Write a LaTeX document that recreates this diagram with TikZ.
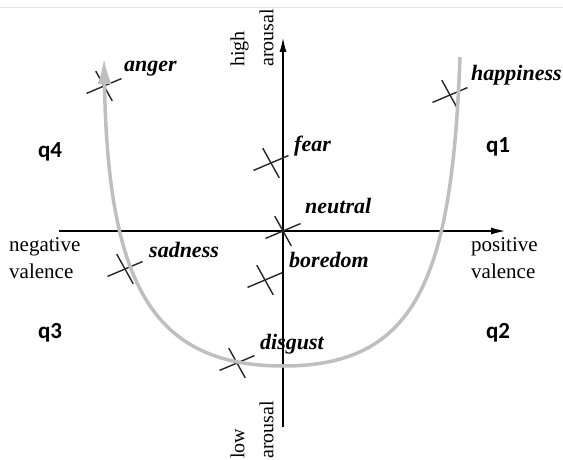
\documentclass[tikz,border=0pt]{standalone}
\usepackage{fontspec}
\setmainfont{Liberation Serif}
\newfontfamily\qfont{Carlito}
\usetikzlibrary{arrows.meta}

\begin{document}
\begin{tikzpicture}[x=1pt,y=1pt,
  emo/.style={anchor=base west,inner sep=0pt,font=\fontsize{22}{26}\selectfont\bfseries\itshape},
  quad/.style={inner sep=0pt,font=\fontsize{23}{26}\selectfont\qfont\bfseries},
  axlabel/.style={inner sep=0pt,align=left,font=\fontsize{21}{27}\selectfont},
  vlabel/.style={inner sep=0pt,align=left,rotate=90,font=\fontsize{20}{29}\selectfont},
  tick/.style={line width=1.4pt,black!85}]
  \useasboundingbox (0,0) rectangle (563,-460);
  \draw[black!10,line width=0.8pt] (0,-7) -- (563,-7);
  % axes
  \coordinate (xl) at (59,-231);
  \coordinate (xr) at (505,-231);
  \coordinate (yb) at (283,-427);
  \coordinate (yt) at (283,-38);
  \draw[line width=1.1pt,-{Latex[length=14pt,width=7pt]}] (xl) -- (xr);
  \draw[line width=1.1pt,-{Latex[length=14pt,width=7pt]}] (yb) -- (yt);
  % crosses
  \foreach \n/\x/\y in {anger/104/86,happy/450/95,fear/271/163,neutral/283/231,sad/125/269,bored/265/280,disgust/237/363}{
    \coordinate (\n) at (\x,-\y);
    \draw[tick] (\n) ++(23:19) -- ++(203:38);
    \draw[tick] (\n) ++(-61:17) -- ++(119:34);
  }
  % the U-shaped curve
  \coordinate (ul) at (104,-58);
  \coordinate (ub) at (283,-366);
  \coordinate (ur) at (460,-57);
  \draw[line width=3.5pt,black!25,{Latex[length=26pt,width=14pt]}-] (ul) .. controls (108,-280) and (150,-366) .. (ub) .. controls (416,-366) and (452,-280) .. (ur);
  % emotion labels
  \node[emo] (angerlbl) at (124,-72) {anger};
  \node[emo] (happylbl) at (471,-81) {happiness};
  \node[emo] (fearlbl) at (294,-151) {fear};
  \node[emo] (neutrallbl) at (305,-213) {neutral};
  \node[emo] (sadlbl) at (149,-257) {sadness};
  \node[emo] (boredlbl) at (289,-267) {boredom};
  \node[emo] (disgustlbl) at (260,-349) {disgust};
  % axis labels
  \node[axlabel,anchor=west] (neg) at (9,-258) {negative\\valence};
  \node[axlabel,anchor=west] (pos) at (471,-258) {positive\\valence};
  \node[vlabel] (high) at (252,-38) {high\\arousal};
  \node[vlabel] (low) at (252,-430) {low\\arousal};
  % quadrants
  \node[quad] (q4) at (50,-152) {q4};
  \node[quad] (q1) at (498,-147) {q1};
  \node[quad] (q3) at (50,-333) {q3};
  \node[quad] (q2) at (498,-333) {q2};
\end{tikzpicture}
\end{document}
